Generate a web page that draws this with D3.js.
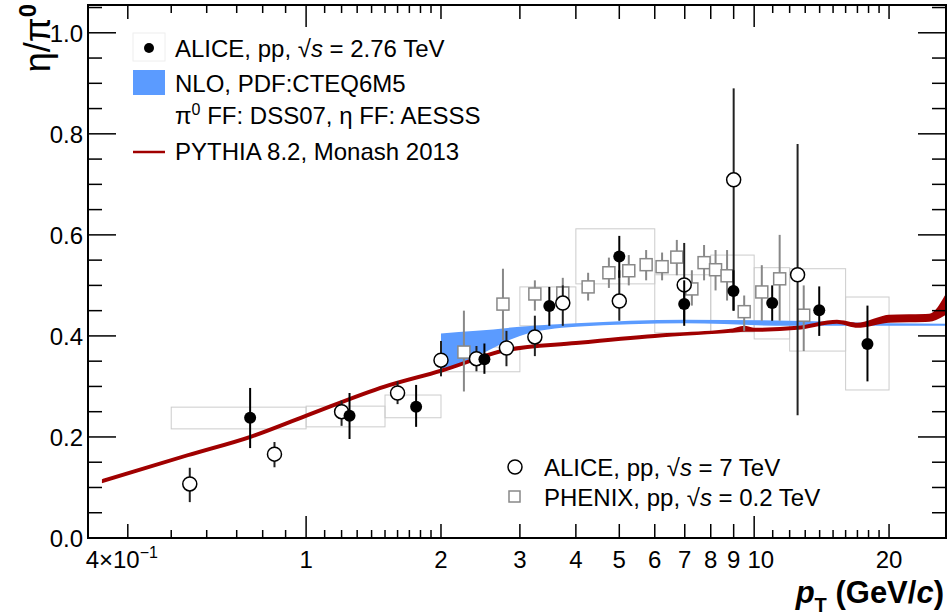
<!DOCTYPE html>
<html><head><meta charset="utf-8">
<script src="https://cdn.jsdelivr.net/npm/d3@7"></script>
<style>body{margin:0;background:#fff}text{font-family:"Liberation Sans",Arial,sans-serif}</style>
</head><body>
<script>
// ALICE pp 2.76 TeV: [pt, ratio, errLo, errHi]
var alice276 = [[0.75,0.238,0.178,0.297],[1.25,0.242,0.196,0.287],[1.76,0.26,0.22,0.303],[2.5,0.354,0.325,0.385],
  [3.49,0.459,0.42,0.497],[5.0,0.557,0.515,0.598],[6.98,0.463,0.42,0.51],[8.99,0.489,0.45,0.53],
  [10.97,0.465,0.43,0.50],[13.97,0.451,0.40,0.498],[17.9,0.384,0.31,0.46]];
// systematic boxes: [xLo, xHi, yLo, yHi]
var sysBoxes = [[0.5,1.0,0.216,0.259],[1.0,1.5,0.22,0.261],[1.5,2.0,0.238,0.283],[2,3,0.329,0.378],[3,4,0.42,0.497],
  [4,6,0.503,0.612],[6,8,0.406,0.521],[8,10,0.408,0.56],[10,12,0.394,0.535],[12,16,0.37,0.533],[16,20,0.293,0.477]];
var alice7 = [[0.55,0.107,0.071,0.139],[0.85,0.166,0.14,0.19],[1.2,0.25,0.222,0.272],[1.6,0.287,0.265,0.31],
  [2.0,0.352,0.32,0.39],[2.4,0.355,0.33,0.38],[2.8,0.376,0.34,0.41],[3.24,0.398,0.36,0.44],[3.74,0.465,0.42,0.50],
  [5.0,0.469,0.43,0.53],[6.98,0.501,0.43,0.584],[9.0,0.709,0.45,0.89],[12.5,0.521,0.243,0.78]];
var phenix = [[2.25,0.368,0.29,0.45],[2.75,0.463,0.392,0.533],[3.24,0.483,0.45,0.51],[3.74,0.485,0.455,0.515],
  [4.26,0.497,0.47,0.525],[4.74,0.525,0.495,0.555],[5.25,0.529,0.50,0.56],[5.74,0.541,0.51,0.57],[6.23,0.537,0.51,0.565],
  [6.72,0.556,0.52,0.59],[7.26,0.493,0.46,0.53],[7.73,0.545,0.51,0.58],[8.2,0.531,0.49,0.57],[8.7,0.519,0.47,0.57],
  [9.5,0.448,0.41,0.48],[10.4,0.487,0.43,0.54],[11.4,0.513,0.43,0.60],[12.9,0.441,0.37,0.50]];
// NLO band: [pt, lo, hi]
var nlo = [[2.0,0.329,0.405],[2.4,0.36,0.41],[3.0,0.40,0.418],[4.0,0.418,0.425],[7.0,0.425,0.432],
  [12,0.42,0.43],[20,0.42,0.425],[27,0.42,0.424]];
// PYTHIA band: [pt, lo, hi]
var pythia = [[0.352,0.111,0.115],[0.545,0.162,0.166],[0.75,0.198,0.202],[1.0,0.24,0.244],[1.5,0.298,0.302],
  [2.0,0.329,0.333],[2.8,0.37,0.374],[4.0,0.384,0.388],[6.0,0.398,0.402],[8.85,0.408,0.412],[9.5,0.41,0.418],
  [10,0.41,0.414],[12.5,0.414,0.418],[15.3,0.426,0.43],[17,0.418,0.424],[20,0.428,0.44],[24.6,0.43,0.442],
  [27,0.446,0.485]];

var W = 950, H = 616, L = 88, R = 946, T = 5, B = 538;
var x = d3.scaleLog().domain([0.326, 26.8]).range([L, R]);
var y = d3.scaleLinear().domain([0, 1.055]).range([B, T]);
var svg = d3.select("body").append("svg").attr("width", W).attr("height", H);
svg.append("clipPath").attr("id", "c").append("rect").attr("x", L).attr("y", T).attr("width", R - L).attr("height", B - T);
var g = svg.append("g").attr("clip-path", "url(#c)");

g.selectAll(".sys").data(sysBoxes).enter().append("rect")
  .attr("x", d => x(d[0])).attr("width", d => x(d[1]) - x(d[0]))
  .attr("y", d => y(d[3])).attr("height", d => y(d[2]) - y(d[3]))
  .attr("fill", "none").attr("stroke", "#ccc").attr("stroke-width", 1);

var band = d3.area().curve(d3.curveMonotoneX).x(d => x(d[0])).y0(d => y(d[1])).y1(d => y(d[2]));
g.append("path").datum(nlo).attr("d", band).attr("fill", "#5b9bff");
g.append("path").datum(pythia).attr("d", band).attr("fill", "#a00000").attr("stroke", "#a00000").attr("stroke-width", 2);

function errs(data, col) {
  g.selectAll(null).data(data).enter().append("line")
    .attr("x1", d => x(d[0])).attr("x2", d => x(d[0]))
    .attr("y1", d => y(d[2])).attr("y2", d => y(d[3]))
    .attr("stroke", col).attr("stroke-width", 2);
}
errs(phenix, "#888");
g.selectAll(".ph").data(phenix).enter().append("rect")
  .attr("x", d => x(d[0]) - 6).attr("y", d => y(d[1]) - 6).attr("width", 12).attr("height", 12)
  .attr("fill", "#fff").attr("stroke", "#888").attr("stroke-width", 1.5);
errs(alice7, "#222");
g.selectAll(".a7").data(alice7).enter().append("circle")
  .attr("cx", d => x(d[0])).attr("cy", d => y(d[1])).attr("r", 7)
  .attr("fill", "#fff").attr("stroke", "#000").attr("stroke-width", 1.5);
errs(alice276, "#000");
g.selectAll(".a2").data(alice276).enter().append("circle")
  .attr("cx", d => x(d[0])).attr("cy", d => y(d[1])).attr("r", 6).attr("fill", "#000");

// frame and ticks
svg.append("rect").attr("x", L).attr("y", T).attr("width", R - L).attr("height", B - T)
  .attr("fill", "none").attr("stroke", "#000").attr("stroke-width", 2);
var major = [0.4, 1, 2, 3, 4, 5, 6, 7, 8, 9, 10, 20];
var minor = [0.5, 0.6, 0.7, 0.8, 0.9, 1.1, 1.2, 1.3, 1.4, 1.5, 1.6, 1.7, 1.8, 1.9, 11, 12, 13, 14, 15, 16, 17, 18, 19];
var ax = svg.append("g").attr("stroke", "#000").attr("stroke-width", 1.5);
major.forEach(v => {
  var len = (v === 1 || v === 10) ? 22 : 14;
  ax.append("line").attr("x1", x(v)).attr("x2", x(v)).attr("y1", B).attr("y2", B - len);
  ax.append("line").attr("x1", x(v)).attr("x2", x(v)).attr("y1", T).attr("y2", T + len);
});
minor.forEach(v => {
  ax.append("line").attr("x1", x(v)).attr("x2", x(v)).attr("y1", B).attr("y2", B - 8);
  ax.append("line").attr("x1", x(v)).attr("x2", x(v)).attr("y1", T).attr("y2", T + 8);
});
d3.range(0, 1.051, 0.05).forEach((v, i) => {
  var len = i % 4 === 0 ? 28 : 14;
  ax.append("line").attr("x1", L).attr("x2", L + len).attr("y1", y(v)).attr("y2", y(v));
  ax.append("line").attr("x1", R).attr("x2", R - len).attr("y1", y(v)).attr("y2", y(v));
});
var xLabels = [["1", 1], ["2", 2], ["3", 3], ["4", 4], ["5", 5], ["6", 6], ["7", 7], ["8", 8], ["9", 9], ["10", 10.35], ["20", 20]];
xLabels.forEach(d => svg.append("text").attr("x", x(d[1])).attr("y", 568).attr("text-anchor", "middle")
  .attr("font-size", 24).text(d[0]));
svg.append("text").attr("x", x(0.4) - 6).attr("y", 568).attr("font-size", 24).attr("text-anchor", "middle")
  .html('4×10<tspan dy="-10" font-size="16">−1</tspan>');
[0, 0.2, 0.4, 0.6, 0.8, 1.0].forEach(v => svg.append("text").attr("x", L - 5).attr("y", y(v) + 9)
  .attr("text-anchor", "end").attr("font-size", 24).text(v.toFixed(1)));
svg.append("text").attr("transform", "translate(50,4) rotate(-90)").attr("text-anchor", "end")
  .attr("font-size", 36).html('η/π<tspan dy="-14" font-size="24" font-weight="bold">0</tspan>');
svg.append("text").attr("x", 944).attr("y", 603).attr("text-anchor", "end").attr("font-size", 31).attr("font-weight", "bold")
  .html('<tspan font-style="italic">p</tspan><tspan dy="9" font-size="20">T</tspan><tspan dy="-9"> (GeV/</tspan><tspan font-style="italic">c</tspan>)');

// legends
var fs = 24;
var lg = svg.append("g");
lg.append("rect").attr("x", 133).attr("y", 33).attr("width", 32).attr("height", 28).attr("fill", "#fff").attr("stroke", "#eee");
lg.append("circle").attr("cx", 149).attr("cy", 48).attr("r", 5).attr("fill", "#000");
lg.append("text").attr("x", 175).attr("y", 57).attr("font-size", fs).html('ALICE, pp, √<tspan font-style="italic">s</tspan> = 2.76 TeV');
lg.append("rect").attr("x", 133).attr("y", 70).attr("width", 32).attr("height", 25).attr("fill", "#5b9bff");
lg.append("text").attr("x", 175).attr("y", 92).attr("font-size", fs).text("NLO, PDF:CTEQ6M5");
lg.append("text").attr("x", 175).attr("y", 124).attr("font-size", fs).html('π<tspan dy="-9" font-size="16">0</tspan><tspan dy="9"> FF: DSS07, η FF: AESSS</tspan>');
lg.append("line").attr("x1", 133).attr("x2", 165).attr("y1", 152).attr("y2", 152).attr("stroke", "#a00000").attr("stroke-width", 2.5);
lg.append("text").attr("x", 175).attr("y", 160).attr("font-size", fs).text("PYTHIA 8.2, Monash 2013");

lg.append("circle").attr("cx", 515).attr("cy", 467).attr("r", 7).attr("fill", "#fff").attr("stroke", "#000").attr("stroke-width", 1.5);
lg.append("text").attr("x", 544).attr("y", 476).attr("font-size", fs).html('ALICE, pp, √<tspan font-style="italic">s</tspan> = 7 TeV');
lg.append("rect").attr("x", 509).attr("y", 491).attr("width", 11).attr("height", 11).attr("fill", "#fff").attr("stroke", "#888").attr("stroke-width", 1.5);
lg.append("text").attr("x", 544).attr("y", 506).attr("font-size", fs).html('PHENIX, pp, √<tspan font-style="italic">s</tspan> = 0.2 TeV');
</script>
</body></html>
